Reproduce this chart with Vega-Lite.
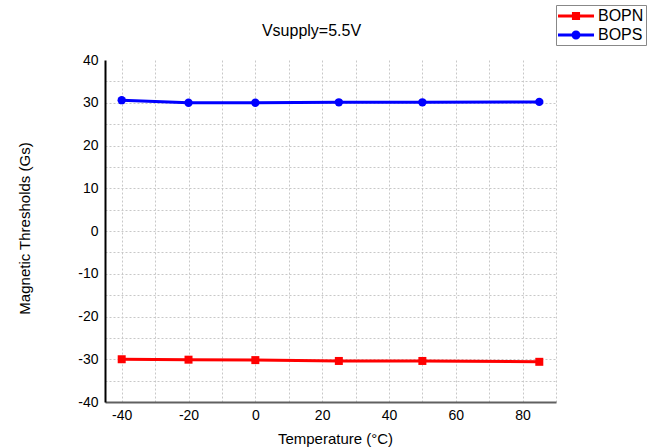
{
  "$schema": "https://vega.github.io/schema/vega-lite/v6.json",
  "autosize": "none",
  "width": 451,
  "height": 342,
  "padding": {"left": 105, "top": 60, "right": 96, "bottom": 46},
  "background": "white",
  "title": {"text": "Vsupply=5.5V", "fontSize": 16, "font": "Liberation Sans", "fontWeight": "normal", "color": "#000000", "offset": 0, "dx": -19, "dy": 34},
  "config": {
    "view": {"stroke": null},
    "font": "Liberation Sans",
    "axis": {"labelFont": "Liberation Sans", "titleFont": "Liberation Sans", "labelColor": "#000000", "titleColor": "#000000", "titleFontWeight": "normal"}
  },
  "data": {"values": [
    {"t": -40, "v": 30.6, "s": "BOPS"},
    {"t": -20, "v": 30.0, "s": "BOPS"},
    {"t": 0, "v": 30.0, "s": "BOPS"},
    {"t": 25, "v": 30.1, "s": "BOPS"},
    {"t": 50, "v": 30.1, "s": "BOPS"},
    {"t": 85, "v": 30.2, "s": "BOPS"},
    {"t": -40, "v": -30.0, "s": "BOPN"},
    {"t": -20, "v": -30.1, "s": "BOPN"},
    {"t": 0, "v": -30.2, "s": "BOPN"},
    {"t": 25, "v": -30.4, "s": "BOPN"},
    {"t": 50, "v": -30.4, "s": "BOPN"},
    {"t": 85, "v": -30.6, "s": "BOPN"}
  ]},
  "encoding": {
    "x": {"field": "t", "type": "quantitative",
      "scale": {"domain": [-45, 90], "nice": false, "zero": false},
      "axis": {"title": "Temperature (°C)", "values": [-40, -30, -20, -10, 0, 10, 20, 30, 40, 50, 60, 70, 80, 90],
        "labelExpr": "datum.value % 20 === 0 && datum.value < 90 ? '' + datum.value : ''",
        "grid": true, "gridDash": [2, 2], "gridColor": "#c8c8c8", "gridWidth": 1,
        "ticks": false, "labelPadding": 6, "labelFontSize": 14,
        "domainColor": "#606060", "domainWidth": 2,
        "titleFontSize": 15, "titleX": 230, "titleY": 36, "titleBaseline": "middle", "titleAlign": "center"}},
    "y": {"field": "v", "type": "quantitative",
      "scale": {"domain": [-40, 40], "nice": false, "zero": false},
      "axis": {"title": "Magnetic Thresholds (Gs)", "values": [-40, -35, -30, -25, -20, -15, -10, -5, 0, 5, 10, 15, 20, 25, 30, 35, 40],
        "labelExpr": "datum.value % 10 === 0 ? '' + datum.value : ''",
        "grid": true, "gridDash": [2, 2], "gridColor": "#c8c8c8", "gridWidth": 1,
        "gridOpacity": {"condition": {"test": "datum.value === 40 || datum.value === -40", "value": 0}, "value": 1},
        "ticks": false, "labelPadding": 7, "labelFontSize": 14,
        "domainColor": "#000000", "domainWidth": 2,
        "titleFontSize": 15, "titleX": -81, "titleY": 168, "titleBaseline": "middle", "titleAlign": "center", "titleAngle": -90}},
    "color": {"field": "s", "type": "nominal",
      "scale": {"domain": ["BOPN", "BOPS"], "range": ["#FF0000", "#0000FF"]},
      "legend": {"title": null, "orient": "none", "legendX": 451, "legendY": -55,
        "strokeColor": "#888888", "fillColor": "white", "padding": 2, "rowPadding": 2,
        "labelFontSize": 16, "labelFont": "Liberation Sans", "labelColor": "#000000", "labelOffset": 22,
        "symbolSize": 324, "symbolStrokeWidth": 0, "symbolOpacity": 1,
        "encode": {"symbols": {"update": {"shape": {"signal": "datum.value === 'BOPN' ? 'M-1,-0.17L3,-0.17L3,0.17L-1,0.17Z M0.55,-0.45L1.45,-0.45L1.45,0.45L0.55,0.45Z' : 'M-1,-0.17L3,-0.17L3,0.17L-1,0.17Z M0.5,0A0.5,0.5 0 1,1 1.5,0A0.5,0.5 0 1,1 0.5,0Z'"}}}}}}
  },
  "layer": [
    {"mark": {"type": "line", "strokeWidth": 3}},
    {"transform": [{"filter": "datum.s === 'BOPN'"}], "mark": {"type": "point", "shape": "square", "filled": true, "size": 64, "opacity": 1}},
    {"transform": [{"filter": "datum.s === 'BOPS'"}], "mark": {"type": "point", "shape": "circle", "filled": true, "size": 70, "opacity": 1}}
  ]
}
